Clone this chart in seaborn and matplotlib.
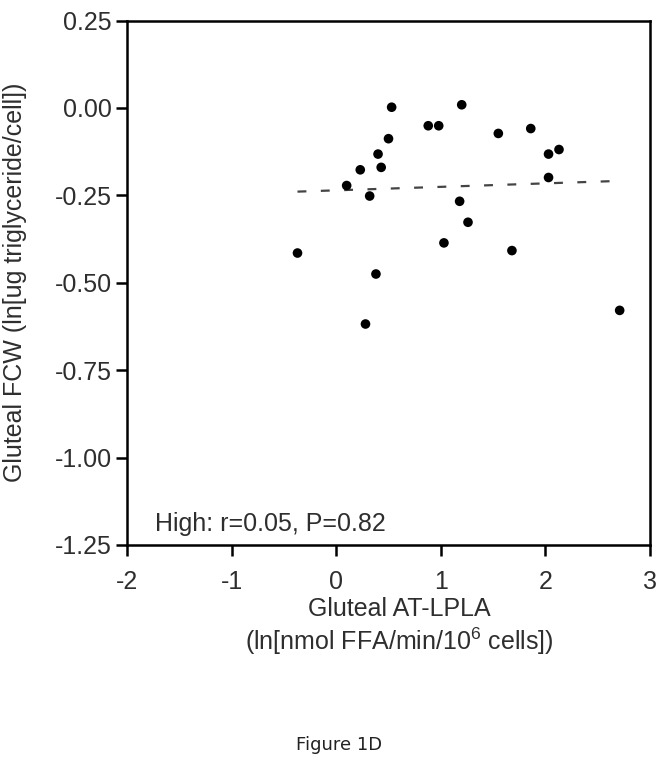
import matplotlib
matplotlib.use("Agg")
import matplotlib.pyplot as plt
import seaborn as sns
import pandas as pd

# values
lpla = [-0.37, 0.10, 0.23, 0.32, 0.40, 0.43, 0.50, 0.53, 0.38, 0.28,
        0.88, 0.98, 1.20, 1.03, 1.18, 1.26, 1.55, 1.68, 1.86, 2.03,
        2.13, 2.03, 2.71]
fcw = [-0.415, -0.222, -0.177, -0.252, -0.132, -0.170, -0.088, 0.002, -0.475, -0.618,
       -0.051, -0.051, 0.009, -0.386, -0.267, -0.327, -0.073, -0.408, -0.059, -0.132,
       -0.119, -0.199, -0.579]
x_ticks = [-2, -1, 0, 1, 2, 3]
y_ticks = [-1.25, -1.00, -0.75, -0.50, -0.25, 0.00, 0.25]
stats_label = "High: r=0.05, P=0.82"

df = pd.DataFrame({"lpla": lpla, "fcw": fcw})

sns.set_style("ticks")
plt.rcParams["font.family"] = ["Liberation Sans", "DejaVu Sans"]
plt.rcParams["axes.unicode_minus"] = False
plt.rcParams["mathtext.fontset"] = "custom"
plt.rcParams["mathtext.rm"] = "Liberation Sans"
plt.rcParams["mathtext.default"] = "rm"

text_col = "#2e2e2e"
fs = 18

fig = plt.figure(figsize=(6.64, 7.62), dpi=100)
ax = fig.add_axes([127 / 664, 1 - 545 / 762, 523 / 664, 524.5 / 762])

sns.regplot(data=df, x="lpla", y="fcw", ax=ax, ci=None, truncate=True,
            scatter_kws={"s": 48, "color": "black", "alpha": 1,
                         "edgecolor": "none", "zorder": 3},
            line_kws={"color": "#444444", "lw": 1.6, "linestyle": (0, (4, 6.5))})

ax.set_xlim(-2, 3)
ax.set_ylim(-1.25, 0.25)
ax.set_xticks(x_ticks)
ax.set_yticks(y_ticks)
ax.set_xticklabels([str(t) for t in x_ticks])
ax.set_yticklabels([f"{t:.2f}" for t in y_ticks])

for s in ax.spines.values():
    s.set_linewidth(1.8)
    s.set_color("black")
ax.tick_params(axis="both", direction="out", length=8, width=1.8,
               labelsize=fs, labelcolor=text_col, color="black", pad=3)
ax.tick_params(axis="x", pad=10)

ax.set_xlabel("Gluteal AT-LPLA\n(ln[nmol FFA/min/10$^{6}$ cells])",
              fontsize=fs, color=text_col, linespacing=1.2)
ax.set_ylabel("Gluteal FCW (ln[ug triglyceride/cell])", fontsize=fs, color=text_col)
ax.xaxis.set_label_coords(0.52, -0.099, transform=ax.transAxes)
ax.xaxis.label.set_va("top")
ax.yaxis.set_label_coords(-0.192, 0.5)

ax.text(0.054, 0.027, stats_label, transform=ax.transAxes, fontsize=fs,
        color=text_col, ha="left", va="baseline")

fig.text(339 / 664, 1 - 745 / 762, "Figure 1D", fontsize=13, color="#222222",
         family="DejaVu Sans", ha="center", va="center")

fig.savefig("out.png", dpi=100, facecolor="white")
